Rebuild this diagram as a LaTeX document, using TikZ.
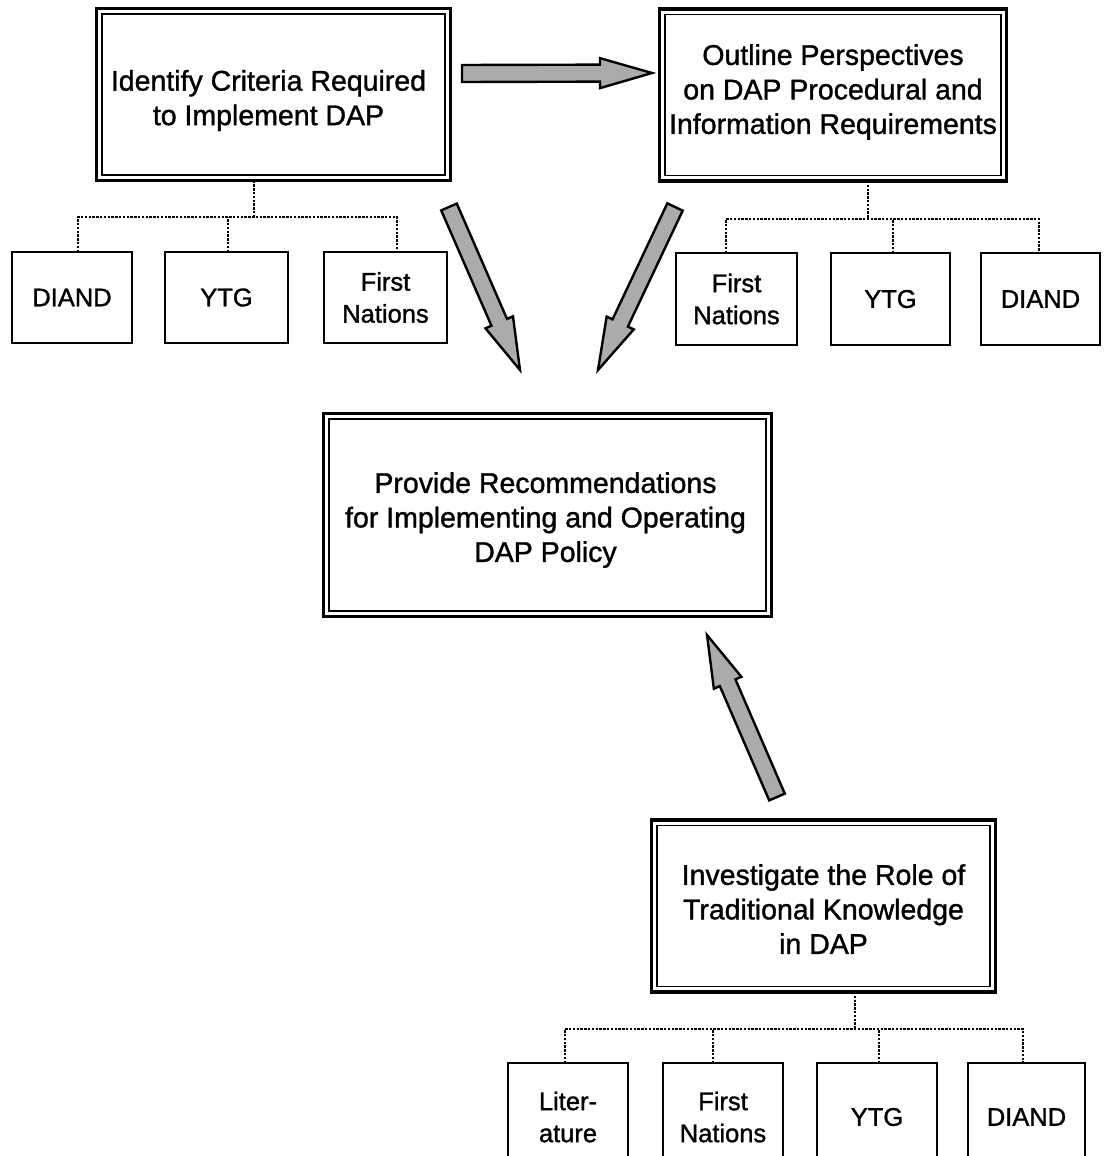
\documentclass[tikz,border=0pt]{standalone}
\usepackage{fontspec}
\setmainfont{Liberation Sans}
\newfontfamily\heavy{Liberation Sans}[FakeBold=1.2]
\usetikzlibrary{calc}
\newcommand{\fatarrow}[2]{%
  \path ($(#2)!52pt!(#1)$) coordinate (hb);
  \draw[bigarrow] ($(#1)!8.5pt!90:(#2)$) -- ($(hb)!8.5pt!90:(#2)$) -- ($(hb)!15pt!90:(#2)$) -- (#2)
     -- ($(hb)!15pt!-90:(#2)$) -- ($(hb)!8.5pt!-90:(#2)$) -- ($(#1)!8.5pt!-90:(#2)$) -- cycle;}
\newcommand{\innerframe}[1]{%
  \draw[line width=1.5pt] ([shift={(5.5pt,5.5pt)}]#1.south west) rectangle ([shift={(-5.5pt,-5.5pt)}]#1.north east);}
\begin{document}
\begin{tikzpicture}[x=1pt,y=-1pt,
  mainbox/.style={draw, line width=3.6pt, inner sep=0pt, outer sep=0pt},
  maintext/.style={inner sep=0pt, align=center, font=\heavy\fontsize{28.5}{34.5}\selectfont},
  subbox/.style={draw, line width=2.1pt, inner sep=0pt, outer sep=0pt, align=center,
    font=\heavy\fontsize{25.5}{32}\selectfont, minimum height=91pt},
  tree/.style={line width=2.4pt, dash pattern=on 2.4pt off 1.4pt},
  bigarrow/.style={draw, line width=2.4pt, fill=black!33, line join=miter}]
\path[use as bounding box] (0,0) rectangle (1107,1156);
\clip (0,0) rectangle (1107,1156);

% main boxes
\node[mainbox, minimum width=354pt, minimum height=172pt] (crit) at (273.5,94.5) {};
\innerframe{crit}
\node[maintext] (critt) at ($(crit)+(-5,6)$) {Identify Criteria Required\\to Implement DAP};
\node[mainbox, minimum width=347pt, minimum height=172pt] (outl) at (833,95) {};
\innerframe{outl}
\node[maintext] (outlt) at ($(outl)+(0,-3)$) {Outline Perspectives\\on DAP Procedural and\\Information Requirements};
\node[mainbox, minimum width=448pt, minimum height=203pt] (reco) at (547.5,515) {};
\innerframe{reco}
\node[maintext] (recot) at ($(reco)+(-2,5)$) {Provide Recommendations\\for Implementing and Operating\\DAP Policy};
\node[mainbox, minimum width=344pt, minimum height=172pt] (trad) at (823.5,906) {};
\innerframe{trad}
\node[maintext] (tradt) at ($(trad)+(0,3)$) {Investigate the Role of\\Traditional Knowledge\\in DAP};

% sub boxes of crit
\node[subbox, minimum width=120pt] (c1) at (72,297.5) {DIAND};
\node[subbox, minimum width=123pt] (c2) at (226.5,297.5) {YTG};
\node[subbox, minimum width=123pt] (c3) at (385.5,297.5) {First\\Nations};
% sub boxes of outl
\node[subbox, minimum width=121pt, minimum height=92pt] (o1) at (736.5,299) {First\\Nations};
\node[subbox, minimum width=119pt, minimum height=92pt] (o2) at (890.5,299) {YTG};
\node[subbox, minimum width=119pt, minimum height=92pt] (o3) at (1040.5,299) {DIAND};
% sub boxes of trad
\node[subbox, minimum width=120pt, minimum height=108pt] (l1) at (568,1117) {Liter-\\ature};
\node[subbox, minimum width=120pt, minimum height=108pt] (l2) at (723,1117) {First\\Nations};
\node[subbox, minimum width=120pt, minimum height=108pt] (l3) at (877,1117) {YTG};
\node[subbox, minimum width=117pt, minimum height=108pt] (l4) at (1026.5,1117) {DIAND};

% dotted trees
\coordinate (cj) at (254,217);
\draw[tree] (crit.south -| cj) -- (cj);
\draw[tree] ([xshift=6pt]c1.north) |- (cj) -| ([xshift=11.5pt]c3.north);
\draw[tree] ([xshift=1.5pt]c2.north) -- ([xshift=1.5pt]c2.north |- cj);

\coordinate (oj) at (868,219);
\draw[tree] (outl.south -| oj) -- (oj);
\draw[tree] ([xshift=-10.5pt]o1.north) |- (oj) -| ([xshift=-1.5pt]o3.north);
\draw[tree] ([xshift=2.5pt]o2.north) -- ([xshift=2.5pt]o2.north |- oj);

\coordinate (tj) at (855,1029);
\draw[tree] (trad.south -| tj) -- (tj);
\draw[tree] ([xshift=-3pt]l1.north) |- (tj) -| ([xshift=-3.5pt]l4.north);
\draw[tree] ([xshift=-10pt]l2.north) -- ([xshift=-10pt]l2.north |- tj);
\draw[tree] ([xshift=2pt]l3.north) -- ([xshift=2pt]l3.north |- tj);

% big arrows
\coordinate (h0) at (462,73.5);
\coordinate (h1) at (652,73);
\fatarrow{h0}{h1}
\coordinate (d0) at (449,207);
\coordinate (d1) at (520,370);
\fatarrow{d0}{d1}
\coordinate (e0) at (675,207);
\coordinate (e1) at (598,370);
\fatarrow{e0}{e1}
\coordinate (u0) at (777,797);
\coordinate (u1) at (707,635);
\fatarrow{u0}{u1}
\end{tikzpicture}
\end{document}
